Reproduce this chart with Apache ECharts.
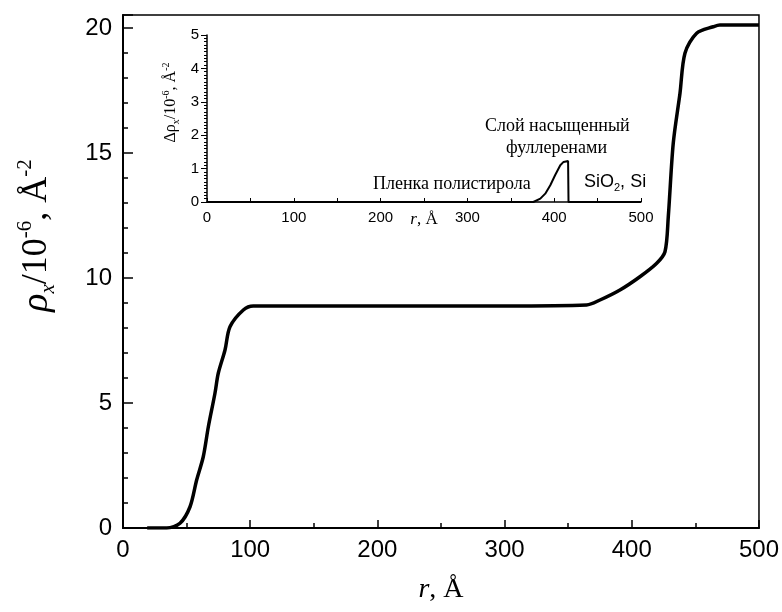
<!DOCTYPE html>
<html><head><meta charset="utf-8">
<script src="https://cdn.jsdelivr.net/npm/echarts@6/dist/echarts.min.js"></script>
<style>html,body{margin:0;padding:0;background:#fff}#c{width:782px;height:612px}</style>
</head><body><div id="c"></div>
<script>
// Main profile rho_x(r)
const mainR   = [19, 34.4, 44.8, 52.7, 57.9, 63.1, 67.1, 72.3, 74.9, 80.2, 84.1, 94.6, 102.4, 200, 300, 364.5, 375, 390.7, 406.4, 419.6, 426.1, 428.7, 432.6, 437.9, 441.8, 451, 464, 469.3, 500];
const mainRho = [0, 0, 0.19, 0.85, 1.92, 2.85, 4.05, 5.39, 6.19, 7.12, 8.05, 8.72, 8.88, 8.88, 8.88, 8.92, 9.12, 9.52, 10.05, 10.59, 11.05, 12.45, 15.39, 17.39, 18.99, 19.79, 20.05, 20.12, 20.12];
// Inset: delta rho_x(r)
const insetR   = [0, 100, 200, 300, 376, 384, 389.7, 395.5, 401, 407, 410.8, 416, 416.5, 450, 500];
const insetDRho = [0, 0, 0, 0, 0, 0.1, 0.25, 0.5, 0.8, 1.1, 1.2, 1.23, 0, 0, 0];
const mainXTicks = [0, 100, 200, 300, 400, 500];
const mainYTicks = [0, 5, 10, 15, 20];
const insetYTicks = [0, 1, 2, 3, 4, 5];

const chart = echarts.init(document.getElementById('c'));
const sans = 'Liberation Sans, Arial, sans-serif';
const serif = 'Liberation Serif, Times New Roman, serif';
const zip = (a, b) => a.map((v, i) => [v, b[i]]);

chart.setOption({
  animation: false,
  backgroundColor: '#fff',
  grid: [
    { left: 123, right: 23, top: 15, bottom: 84, show: true, borderColor: '#000', borderWidth: 1.5, backgroundColor: 'transparent' },
    { left: 207, top: 35, width: 434, height: 167, show: false }
  ],
  xAxis: [
    { gridIndex: 0, type: 'value', min: 0, max: 500, interval: 100,
      axisLine: { lineStyle: { color: '#000', width: 2 } },
      axisTick: { inside: true, length: 8, lineStyle: { color: '#000', width: 1.5 } },
      minorTick: { show: true, splitNumber: 2, length: 5, lineStyle: { color: '#000', width: 1.5 } },
      splitLine: { show: false },
      axisLabel: { color: '#000', fontFamily: sans, fontSize: 24, margin: 10 },
      name: '{i|r}{n|, Å}', nameLocation: 'middle', nameGap: 48, nameMoveOverlap: false,
      nameTextStyle: { rich: { i: { fontFamily: serif, fontStyle: 'italic', fontSize: 28, color: '#000' }, n: { fontFamily: serif, fontSize: 28, color: '#000' } } }
    },
    { gridIndex: 1, type: 'value', min: 0, max: 500, interval: 100,
      axisLine: { lineStyle: { color: '#000', width: 1.5 } },
      axisTick: { inside: true, length: 4, lineStyle: { color: '#000', width: 1 } },
      minorTick: { show: true, splitNumber: 2, length: 4, lineStyle: { color: '#000', width: 1 } },
      splitLine: { show: false },
      axisLabel: { color: '#000', fontFamily: sans, fontSize: 15, margin: 8 },
      name: '{i|r}{n|, Å}', nameLocation: 'middle', nameGap: 9, nameMoveOverlap: false,
      nameTextStyle: { rich: { i: { fontFamily: serif, fontStyle: 'italic', fontSize: 17, color: '#000' }, n: { fontFamily: serif, fontSize: 17, color: '#000' } } }
    }
  ],
  yAxis: [
    { gridIndex: 0, type: 'value', min: 0, max: 20.52, interval: 5,
      axisLine: { lineStyle: { color: '#000', width: 2 } },
      axisTick: { inside: true, length: 10, lineStyle: { color: '#000', width: 1.5 } },
      minorTick: { show: true, splitNumber: 5, length: 5, lineStyle: { color: '#000', width: 1.5 } },
      splitLine: { show: false },
      axisLabel: { color: '#000', fontFamily: sans, fontSize: 24, margin: 11, showMaxLabel: false,
        formatter: v => mainYTicks.includes(v) ? String(v) : '' },
      name: '{i|ρ}{sub|x}{n|/10}{sup|-6}{n|, Å}{sup|-2}', nameLocation: 'middle', nameGap: 64, nameMoveOverlap: false,
      nameTextStyle: { padding: [0, 0, 0, 72], rich: {
        i: { fontFamily: serif, fontStyle: 'italic', fontSize: 38, lineHeight: 44, color: '#000' },
        n: { fontFamily: serif, fontSize: 36, lineHeight: 44, color: '#000' },
        sub: { fontFamily: serif, fontStyle: 'italic', fontSize: 21, lineHeight: 19, verticalAlign: 'bottom', color: '#000' },
        sup: { fontFamily: serif, fontSize: 21, lineHeight: 19, verticalAlign: 'top', color: '#000' }
      } }
    },
    { gridIndex: 1, type: 'value', min: 0, max: 5, interval: 1,
      axisLine: { lineStyle: { color: '#000', width: 1.5 } },
      axisTick: { inside: false, length: 6, lineStyle: { color: '#000', width: 1 } },
      minorTick: { show: true, splitNumber: 10, length: 3, lineStyle: { color: '#000', width: 1 } },
      splitLine: { show: false },
      axisLabel: { color: '#000', fontFamily: sans, fontSize: 15, margin: 8 },
      name: '{n|Δρ}{sub|x}{n|/10}{sup|-6}{n|, Å}{sup|-2}', nameLocation: 'middle', nameGap: 26, nameMoveOverlap: false,
      nameTextStyle: { padding: [0, 0, 0, 32], rich: {
        n: { fontFamily: serif, fontSize: 16, lineHeight: 20, color: '#000' },
        sub: { fontFamily: serif, fontSize: 10, lineHeight: 9, verticalAlign: 'bottom', color: '#000' },
        sup: { fontFamily: serif, fontSize: 10, lineHeight: 9, verticalAlign: 'top', color: '#000' }
      } }
    }
  ],
  series: [
    { type: 'line', xAxisIndex: 0, yAxisIndex: 0, data: zip(mainR, mainRho), symbol: 'none', smooth: 0.3,
      lineStyle: { color: '#000', width: 3.5 } },
    { type: 'line', xAxisIndex: 1, yAxisIndex: 1, data: zip(insetR, insetDRho), symbol: 'none',
      lineStyle: { color: '#000', width: 2 } }
  ],
  graphic: [
    { type: 'text', left: 485, top: 117, style: { text: 'Слой насыщенный', font: '18px ' + serif, fill: '#000' } },
    { type: 'text', left: 506, top: 139, style: { text: 'фуллеренами', font: '18px ' + serif, fill: '#000' } },
    { type: 'text', left: 373, top: 175, style: { text: 'Пленка полистирола', font: '18px ' + serif, fill: '#000' } },
    { type: 'text', left: 584, top: 173, style: { text: '{n|SiO}{s|2}{n|, Si}', rich: {
        n: { fontFamily: sans, fontSize: 18, lineHeight: 22, fill: '#000' },
        s: { fontFamily: sans, fontSize: 11, lineHeight: 11, verticalAlign: 'bottom', fill: '#000' } } } }
  ]
});
</script></body></html>
